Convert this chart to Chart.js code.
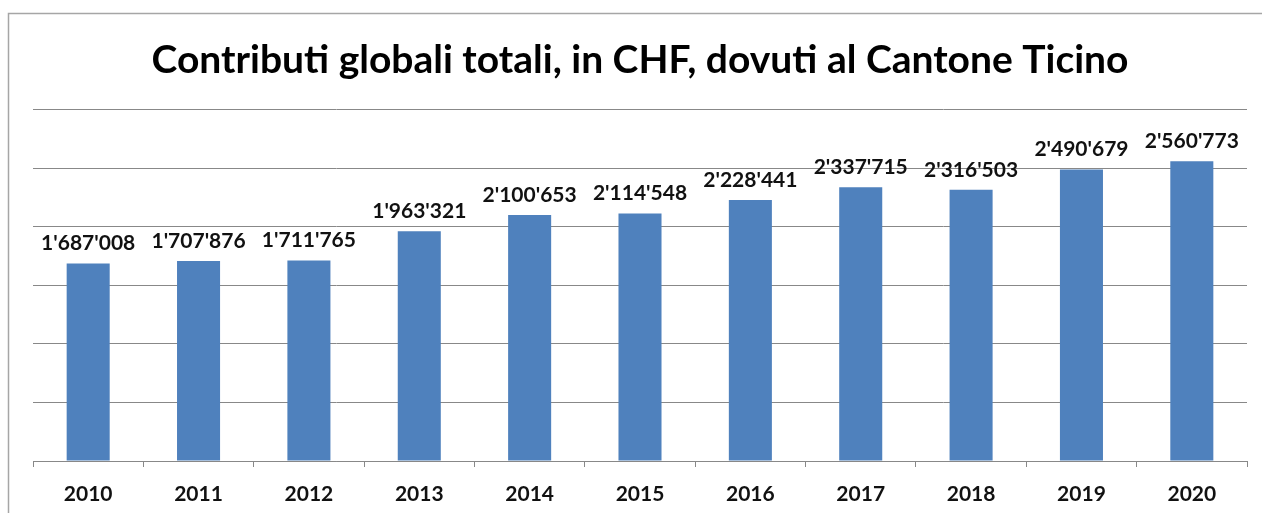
<html>
<head>
<script src="https://cdn.jsdelivr.net/npm/chart.js@4"></script>
<style>
  html, body { margin: 0; padding: 0; background: #fff; }
  #wrap { position: relative; width: 1262px; height: 513px; }
</style>
</head>
<body>
<div id="wrap"><canvas id="myChart" width="1262" height="513"></canvas></div>
<script>
  var years = ['2010', '2011', '2012', '2013', '2014', '2015', '2016', '2017', '2018', '2019', '2020'];
  var contributi = [1687008, 1707876, 1711765, 1963321, 2100653, 2114548, 2228441, 2337715, 2316503, 2490679, 2560773];
  var yTicks = [0, 500000, 1000000, 1500000, 2000000, 2500000, 3000000];

  var fmt = v => String(v).replace(/\B(?=(\d{3})+(?!\d))/g, "'");

  // cornice grigia (sinistra e sopra)
  var frame = {
    id: 'frame',
    beforeDraw: function(chart) {
      var c = chart.ctx;
      c.save();
      c.strokeStyle = '#a6a6a6';
      c.lineWidth = 1.5;
      c.beginPath();
      c.moveTo(8.5, chart.height);
      c.lineTo(8.5, 13.5);
      c.lineTo(chart.width, 13.5);
      c.stroke();
      c.restore();
    }
  };

  // etichette sopra le barre
  var valueLabels = {
    id: 'valueLabels',
    afterDatasetsDraw: function(chart) {
      var c = chart.ctx;
      var meta = chart.getDatasetMeta(0);
      c.save();
      c.font = 'bold 21px Lato';
      c.fillStyle = '#111';
      c.textAlign = 'center';
      c.textBaseline = 'middle';
      meta.data.forEach(function(bar, i) {
        c.fillText(fmt(contributi[i]), bar.x, bar.y - 20);
      });
      c.restore();
    }
  };

  var ctx = document.getElementById('myChart').getContext('2d');
  var chart = new Chart(ctx, {
    type: 'bar',
    data: {
      labels: years,
      datasets: [{
        data: contributi,
        backgroundColor: '#4f81bd',
        barPercentage: 0.39,
        categoryPercentage: 1
      }]
    },
    options: {
      responsive: false,
      animation: false,
      layout: { padding: { left: 33, right: 15, bottom: 0, top: 0 } },
      plugins: {
        legend: { display: false },
        tooltip: { enabled: false },
        title: {
          display: true,
          text: 'Contributi globali totali, in CHF, dovuti al Cantone Ticino',
          color: '#000',
          font: { family: 'Lato', size: 39, weight: 'bold' },
          padding: { top: 37, bottom: 26 }
        }
      },
      scales: {
        x: {
          afterFit: function(axis) { axis.height = 52; },
          grid: { drawOnChartArea: false, drawTicks: true, tickLength: 6, color: '#888' },
          border: { color: '#888' },
          ticks: { color: '#111', padding: 15, font: { family: 'Lato', size: 21, weight: 'bold' } }
        },
        y: {
          min: 0,
          max: 3000000,
          afterBuildTicks: function(axis) { axis.ticks = yTicks.map(v => ({ value: v })); },
          grid: { color: '#888', drawTicks: false },
          border: { display: false },
          ticks: { display: false }
        }
      }
    },
    plugins: [frame, valueLabels]
  });
</script>
</body>
</html>
